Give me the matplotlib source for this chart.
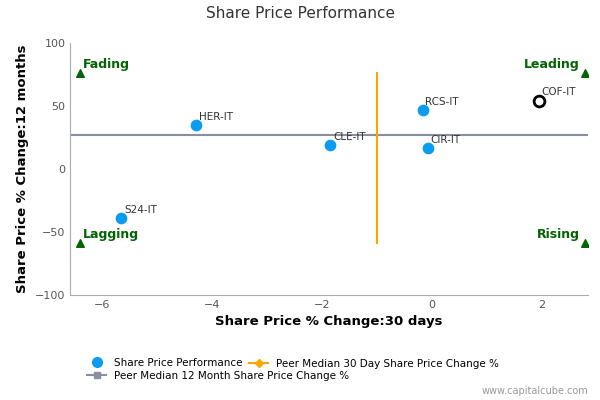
import matplotlib.pyplot as plt
from matplotlib.lines import Line2D

# ── data ─────────────────────────────────────────
names = ['HER-IT', 'CLE-IT', 'RCS-IT', 'CIR-IT', 'S24-IT']
x_30d = [-4.29, -1.84, -0.16, -0.07, -5.65]
y_12m = [35, 19, 47, 17, -39]
focus_name = 'COF-IT'
focus_x, focus_y = 1.95, 54
median_30d = -1.0
median_12m = 27
median_30d_span = [-59, 76]
corner_x = [-6.4, 2.8]
corner_y = [-59, 76]

BLUE = '#0a9cf0'
GREEN = '#006400'

fig = plt.figure(figsize=(6, 4), dpi=100)
ax = fig.add_axes([0.117, 0.2625, 0.863, 0.63])
ax.set_xlim(-6.58, 2.85)
ax.set_ylim(-100, 100)

ax.axhline(median_12m, color='#8a8fa0', lw=1.5, zorder=1)
ax.plot([median_30d, median_30d], median_30d_span, color='orange', lw=1.5, zorder=1)

ax.scatter(x_30d, y_12m, s=55, color=BLUE, zorder=3)
for n, x, y in zip(names, x_30d, y_12m):
    ax.text(x + 0.05, y + 4, n, fontsize=7.5, color='#333333')
ax.scatter([focus_x], [focus_y], s=60, facecolor='white', edgecolor='black', lw=2, zorder=4)
ax.text(focus_x + 0.05, focus_y + 5, focus_name, fontsize=7.5, color='#333333')

for cx in corner_x:
    for cy in corner_y:
        ax.scatter([cx], [cy], marker='^', s=30, color=GREEN, zorder=3)
ax.text(-6.35, 80, 'Fading', color=GREEN, fontsize=9, fontweight='bold')
ax.text(2.7, 80, 'Leading', color=GREEN, fontsize=9, fontweight='bold', ha='right')
ax.text(-6.35, -55, 'Lagging', color=GREEN, fontsize=9, fontweight='bold')
ax.text(2.7, -55, 'Rising', color=GREEN, fontsize=9, fontweight='bold', ha='right')

ax.set_xticks([-6, -4, -2, 0, 2])
ax.set_yticks([-100, -50, 0, 50, 100])
ax.tick_params(labelsize=8, colors='#555555', length=0)
for s in ['top', 'right']:
    ax.spines[s].set_visible(False)
ax.spines['left'].set_color('#aaaaaa')
ax.spines['bottom'].set_color('#aaaaaa')

ax.set_xlabel('Share Price % Change:30 days', fontsize=9.5, fontweight='bold')
ax.set_ylabel('Share Price % Change:12 months', fontsize=9.5, fontweight='bold')
fig.text(0.5, 0.955, 'Share Price Performance', ha='center', fontsize=11, color='#333333')

handles = [
    Line2D([], [], marker='o', color=BLUE, ls='', markersize=7),
    Line2D([], [], marker='D', color='orange', lw=1.5, markersize=4),
    Line2D([], [], marker='s', color='#8a8fa0', lw=1.5, markersize=5),
]
labels = ['Share Price Performance', 'Peer Median 30 Day Share Price Change %',
          'Peer Median 12 Month Share Price Change %']
leg1 = fig.legend([handles[0], handles[2]], [labels[0], labels[2]],
                  loc='lower left', bbox_to_anchor=(0.13, 0.025), frameon=False,
                  fontsize=7.5, handlelength=1.8, labelspacing=0.3)
fig.legend([handles[1]], [labels[1]],
           loc='lower left', bbox_to_anchor=(0.40, 0.055), frameon=False,
           fontsize=7.5, handlelength=1.8)
fig.text(0.98, 0.015, 'www.capitalcube.com', ha='right', fontsize=7, color='#999999')

fig.savefig('out.png', dpi=100)
